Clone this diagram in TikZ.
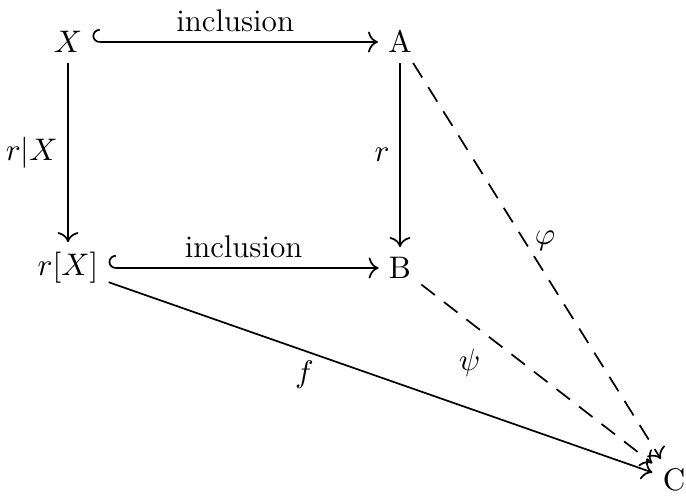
\documentclass[tikz,border=0pt]{standalone}
\usepackage{amsmath, amssymb}
\usetikzlibrary{arrows.meta}

\begin{document}
\begin{tikzpicture}[x=0.01235cm, y=-0.01235cm, >={Computer Modern Rightarrow[scale=1.2]}, font=\fontsize{11}{13}\selectfont, semithick]
    \useasboundingbox (0,0) rectangle (686,500);
    \tikzset{hookarrow/.style={{Hooks[right, scale=1.7]}->}, dasharrow/.style={->, dashed, dash pattern=on 6pt off 4pt}}

    \node (X) at (68,42) {$X$};
    \node (A) at (400,42) {$\mathrm{A}$};
    \node (rX) at (68,268) {$r[X]$};
    \node (B) at (400,268) {$\mathrm{B}$};
    \node (C) at (674,480) {$\mathrm{C}$};

    \draw[hookarrow] (X.east) -- node[above] {inclusion} (A.west);
    \draw[hookarrow] (rX.east) -- node[above] {inclusion} (B.west);
    \draw[->] (X) -- node[left] {$r|X$} (rX);
    \draw[->] (A) -- node[left] {$r$} (B);
    \draw[dasharrow] (A) -- node[pos=0.45, right] {$\varphi$} (C);
    \draw[dasharrow] (B) -- node[pos=0.3, below left] {$\psi$} (C);
    \draw[->] (rX) -- node[pos=0.36, below] {$f$} (C);
  \end{tikzpicture}
\end{document}
